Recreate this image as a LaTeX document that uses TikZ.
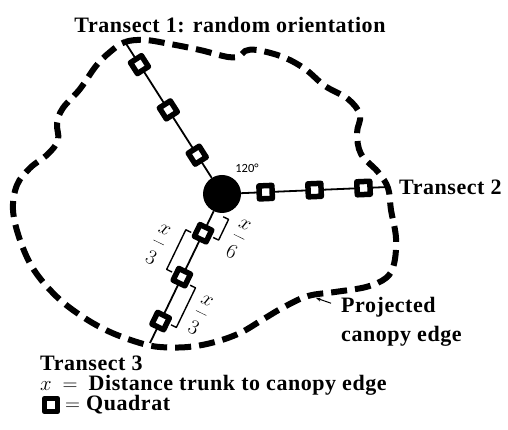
\documentclass[tikz,border=0pt]{standalone}
\usepackage{fontspec}
\setmainfont{Liberation Serif}[LetterSpace=2.5]
\newfontfamily\anglefont{Carlito}
\usetikzlibrary{arrows.meta,calc}

% fraction with the open spacing of the drawing
\newcommand{\gapfrac}[2]{$\displaystyle\frac{#1\rule[-7pt]{0pt}{7pt}}{\rule{0pt}{22pt}#2}$}

\begin{document}
\begin{tikzpicture}[
  x=1pt, y=1pt,
  line join=round,
  canopy/.style={
    draw=black,
    line width=6pt,
    dash pattern=on 16pt off 8pt
  },
  transect/.style={
    draw=black,
    line width=1.8pt
  },
  quadrat/.style={
    draw=black,
    fill=white,
    line width=5.5pt,
    minimum size=13pt,
    inner sep=0pt
  },
  trunk/.style={
    circle,
    fill=black,
    minimum size=38pt,
    inner sep=0pt
  },
  bracket/.style={
    draw=black,
    line width=1.4pt
  },
  frac/.style={
    font=\fontsize{20}{20}\selectfont,
    inner sep=0pt,
    rotate=-26
  },
  lab/.style={
    font=\fontsize{22}{29}\selectfont\bfseries,
    inner sep=0pt,
    align=left
  },
  pointer/.style={
    -{Stealth[length=5pt,width=4pt]},
    line width=1pt
  }
]
\useasboundingbox (0,0) rectangle (508,430);

% Canopy edge
\draw[canopy] plot[smooth cycle, tension=0.6] coordinates {
  (110,378) (125,388) (145,390) (170,386) (200,380) (228,373) (240,374)
  (245,379) (257,380) (283,373) (305,361) (325,344) (348,331) (360,315)
  (357,297) (361,276) (378,258) (388,242) (391,220) (396,192) (394,166)
  (386,152) (366,143) (335,138) (308,134) (284,123) (262,110) (240,97)
  (215,88) (188,83) (160,83) (140,87) (110,98) (83,113) (57,133) (34,160)
  (20,190) (13,220) (17,245) (30,262) (48,276) (58,290) (57,307) (63,322)
  (80,341) (96,364)};

% Trunk and transect ends
\node[trunk] (trunk) at (222,236) {};
\coordinate (end1) at (125,388);
\coordinate (end2) at (388,243);
\coordinate (end3) at (150,87);

% Transects with quadrats at x/6, x/2, 5x/6
\draw[transect] (trunk) -- (end1)
  node[quadrat, sloped, pos=1/6] (q1a) {}
  node[quadrat, sloped, pos=1/2] (q1b) {}
  node[quadrat, sloped, pos=5/6] (q1c) {};
\draw[transect] (trunk) -- (end2)
  node[quadrat, sloped, pos=1/6] (q2a) {}
  node[quadrat, sloped, pos=1/2] (q2b) {}
  node[quadrat, sloped, pos=5/6] (q2c) {};
\draw[transect] (trunk) -- (end3)
  node[quadrat, sloped, pos=1/6] (q3a) {}
  node[quadrat, sloped, pos=1/2] (q3b) {}
  node[quadrat, sloped, pos=5/6] (q3c) {};

\node[font=\anglefont\fontsize{12.5}{12.5}\selectfont] (angle) at (247,262) {120°};

% Spacing brackets along transect 3
\begin{scope}[shift={(trunk.center)}, rotate=244.2]
  \draw[bracket] (20,11) -- (20,17) -- (43,17) -- (43,11);
  \draw[bracket] (48,-11) -- (48,-17) -- (92,-17) -- (92,-11);
  \draw[bracket] (96,11) -- (96,17) -- (140,17) -- (140,11);
  \node[frac] (sixth) at (34,34) {\gapfrac{x}{6}};
  \node[frac] (thirda) at (74,-36) {\gapfrac{x}{3}};
  \node[frac] (thirdb) at (119,33) {\gapfrac{x}{3}};
\end{scope}

% Labels
\node[lab] (lt1) at (230,405) {Transect 1: random orientation};
\node[lab, anchor=west] (lt2) at (399,243) {Transect 2};
\node[lab, anchor=west] (lt3) at (40,67) {Transect 3};
\node[lab, anchor=west] (proj) at (341,108) {Projected\\canopy edge};
\coordinate (edgept) at (316,132);
\draw[pointer] ([shift={(-10,-6)}]proj.north west) -- (edgept);

% Legend
\node[lab, anchor=west] (defx) at (40,45) {$x$\enspace$=$\enspace Distance trunk to canopy edge};
\node[quadrat] (legq) at (51,25) {};
\node[lab, anchor=west] (legt) at (65,25) {$=$ Quadrat};

\end{tikzpicture}
\end{document}
